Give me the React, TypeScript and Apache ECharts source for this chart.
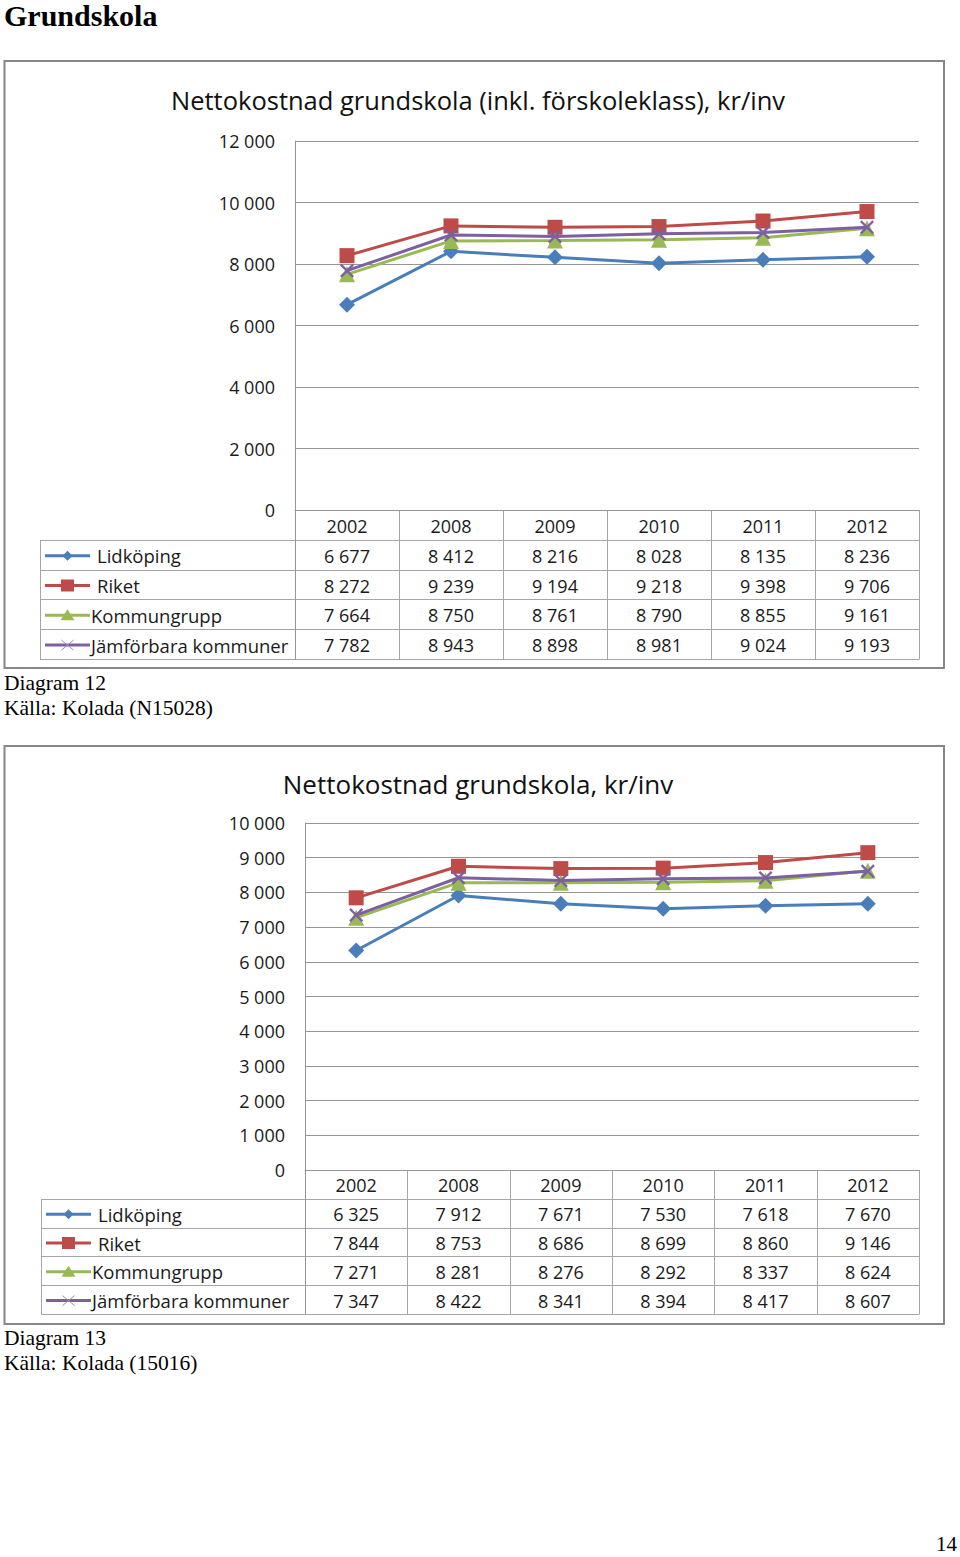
import React, { useEffect, useRef } from "react";
import * as echarts from "echarts";

// ---------- data ----------
const years = ["2002", "2008", "2009", "2010", "2011", "2012"];
const seriesNames = ["Lidköping", "Riket", "Kommungrupp", "Jämförbara kommuner"];
const seriesColors = ["#4A7EBB", "#BE4B48", "#98B954", "#7D60A0"];

const d12Lidkoping = [6677, 8412, 8216, 8028, 8135, 8236];
const d12Riket = [8272, 9239, 9194, 9218, 9398, 9706];
const d12Kommungrupp = [7664, 8750, 8761, 8790, 8855, 9161];
const d12Jamforbara = [7782, 8943, 8898, 8981, 9024, 9193];

const d13Lidkoping = [6325, 7912, 7671, 7530, 7618, 7670];
const d13Riket = [7844, 8753, 8686, 8699, 8860, 9146];
const d13Kommungrupp = [7271, 8281, 8276, 8292, 8337, 8624];
const d13Jamforbara = [7347, 8422, 8341, 8394, 8417, 8607];

const d12Max = 12000;
const d12Interval = 2000;
const d13Max = 10000;
const d13Interval = 1000;

const pageHeading = "Grundskola";
const d12Title = "Nettokostnad grundskola (inkl. förskoleklass), kr/inv";
const d13Title = "Nettokostnad grundskola, kr/inv";
const d12Caption = ["Diagram 12", "Källa: Kolada (N15028)"];
const d13Caption = ["Diagram 13", "Källa: Kolada (15016)"];
const pageNumber = "14";

// ---------- layout ----------
const W = 960;
const H = 1557;
const SANS = "'Open Sans', 'Noto Sans', sans-serif";
const SERIF = "'Liberation Serif', 'DejaVu Serif', serif";
const GRID_COLOR = "#969696";
const TABLE_COLOR = "#a6a6a6";

const fmt = (n: number) => String(n).replace(/\B(?=(\d{3})+(?!\d))/g, " ");

const X_SYMBOL =
  "path://M0,1.2 L1.2,0 L5,3.8 L8.8,0 L10,1.2 L6.2,5 L10,8.8 L8.8,10 L5,6.2 L1.2,10 L0,8.8 L3.8,5 Z";

type Panel = {
  frameTop: number;
  frameBottom: number;
  titleY: number;
  title: string;
  titleSize: number;
  gridLeft: number;
  gridTop: number;
  gridBottom: number;
  gridRight: number;
  labelRight: number;
  legendLeft: number;
  tableBottom: number;
  max: number;
  interval: number;
  data: number[][];
  caption: string[];
  captionY: number;
};

const panels: Panel[] = [
  {
    frameTop: 61,
    frameBottom: 668,
    titleY: 100,
    title: d12Title,
    titleSize: 25.5,
    gridLeft: 295,
    gridTop: 141,
    gridBottom: 510,
    gridRight: 919,
    labelRight: 275,
    legendLeft: 40,
    tableBottom: 659,
    max: d12Max,
    interval: d12Interval,
    data: [d12Lidkoping, d12Riket, d12Kommungrupp, d12Jamforbara],
    caption: d12Caption,
    captionY: 683,
  },
  {
    frameTop: 746,
    frameBottom: 1324,
    titleY: 784,
    title: d13Title,
    titleSize: 26,
    gridLeft: 305,
    gridTop: 823,
    gridBottom: 1170,
    gridRight: 919,
    labelRight: 285,
    legendLeft: 41,
    tableBottom: 1314,
    max: d13Max,
    interval: d13Interval,
    data: [d13Lidkoping, d13Riket, d13Kommungrupp, d13Jamforbara],
    caption: d13Caption,
    captionY: 1338,
  },
];

const symbols = ["diamond", "rect", "triangle", X_SYMBOL];
const symbolSizes = [16, 15, 16, 14];

function legendKey(i: number, x0: number, cy: number): any[] {
  const c = seriesColors[i];
  const x1 = x0 + 45;
  const cx = (x0 + x1) / 2;
  const els: any[] = [
    {
      type: "line",
      shape: { x1: x0, y1: cy, x2: x1, y2: cy },
      style: { stroke: c, lineWidth: 3 },
    },
  ];
  if (i === 0) {
    els.push({
      type: "polygon",
      shape: { points: [[cx, cy - 5], [cx + 5, cy], [cx, cy + 5], [cx - 5, cy]] },
      style: { fill: c },
    });
  } else if (i === 1) {
    els.push({ type: "rect", shape: { x: cx - 6.5, y: cy - 6, width: 13, height: 12 }, style: { fill: c } });
  } else if (i === 2) {
    els.push({
      type: "polygon",
      shape: { points: [[cx, cy - 6], [cx + 7, cy + 5], [cx - 7, cy + 5]] },
      style: { fill: c },
    });
  } else {
    els.push({ type: "line", shape: { x1: cx - 6, y1: cy - 5, x2: cx + 6, y2: cy + 5 }, style: { stroke: "#9b8bb8", lineWidth: 1 } });
    els.push({ type: "line", shape: { x1: cx - 6, y1: cy + 5, x2: cx + 6, y2: cy - 5 }, style: { stroke: "#9b8bb8", lineWidth: 1 } });
  }
  return els;
}

function buildOption(): any {
  const grids: any[] = [];
  const xAxes: any[] = [];
  const yAxes: any[] = [];
  const series: any[] = [];
  const graphic: any[] = [];

  graphic.push({
    type: "text",
    x: 4,
    y: 15.5,
    style: { text: pageHeading, font: `bold 30px ${SERIF}`, fill: "#000", textVerticalAlign: "middle" },
  });
  graphic.push({
    type: "text",
    x: 957,
    y: 1544,
    style: { text: pageNumber, font: `21px ${SERIF}`, fill: "#000", textAlign: "right", textVerticalAlign: "middle" },
  });

  panels.forEach((p, pi) => {
    graphic.push({
      type: "rect",
      shape: { x: 4.5, y: p.frameTop, width: 939.5, height: p.frameBottom - p.frameTop },
      style: { fill: "#fff", stroke: "#868686", lineWidth: 2 },
      z: -10,
    });
    graphic.push({
      type: "text",
      x: 478,
      y: p.titleY,
      style: { text: p.title, font: `${p.titleSize}px ${SANS}`, fill: "#111", textAlign: "center", textVerticalAlign: "middle" },
    });
    p.caption.forEach((t, k) => {
      graphic.push({
        type: "text",
        x: 4,
        y: p.captionY + k * 25,
        style: { text: t, font: `21.5px ${SERIF}`, fill: "#000", textVerticalAlign: "middle" },
      });
    });

    grids.push({
      left: p.gridLeft,
      top: p.gridTop,
      width: p.gridRight - p.gridLeft,
      height: p.gridBottom - p.gridTop,
      containLabel: false,
    });
    xAxes.push({
      type: "category",
      gridIndex: pi,
      data: years,
      boundaryGap: true,
      axisLine: { show: true, lineStyle: { color: GRID_COLOR, width: 1 } },
      axisTick: { show: false },
      axisLabel: { show: false },
      splitLine: { show: false },
    });
    yAxes.push({
      type: "value",
      gridIndex: pi,
      min: 0,
      max: p.max,
      interval: p.interval,
      axisLine: { show: true, lineStyle: { color: GRID_COLOR, width: 1 } },
      axisTick: { show: false },
      axisLabel: {
        margin: p.gridLeft - p.labelRight,
        formatter: (v: number) => fmt(v),
        fontFamily: SANS,
        fontSize: 18,
        color: "#1a1a1a",
      },
      splitLine: { show: true, lineStyle: { color: GRID_COLOR, width: 1 } },
    });

    p.data.forEach((vals, si) => {
      series.push({
        type: "line",
        name: seriesNames[si],
        xAxisIndex: pi,
        yAxisIndex: pi,
        data: vals,
        symbol: symbols[si],
        symbolSize: symbolSizes[si],
        showSymbol: true,
        lineStyle: { color: seriesColors[si], width: 3 },
        itemStyle: { color: seriesColors[si] },
        z: 3 + si,
        emphasis: { disabled: true },
      });
    });

    const rowH = (p.tableBottom - p.gridBottom) / 5;
    const colW = (p.gridRight - p.gridLeft) / years.length;
    for (let r = 1; r <= 5; r++) {
      const y = Math.round(p.gridBottom + r * rowH) + 0.5;
      graphic.push({
        type: "line",
        shape: { x1: p.legendLeft, y1: y, x2: p.gridRight, y2: y },
        style: { stroke: TABLE_COLOR, lineWidth: 1 },
      });
    }
    const yTopRow = Math.round(p.gridBottom + rowH);
    graphic.push({
      type: "line",
      shape: { x1: p.legendLeft + 0.5, y1: yTopRow, x2: p.legendLeft + 0.5, y2: p.tableBottom + 0.5 },
      style: { stroke: TABLE_COLOR, lineWidth: 1 },
    });
    for (let c = 0; c <= years.length; c++) {
      const x = Math.round(p.gridLeft + c * colW) + 0.5;
      graphic.push({
        type: "line",
        shape: { x1: x, y1: p.gridBottom, x2: x, y2: p.tableBottom + 0.5 },
        style: { stroke: c === 0 ? GRID_COLOR : TABLE_COLOR, lineWidth: 1 },
      });
    }
    years.forEach((yr, c) => {
      graphic.push({
        type: "text",
        x: p.gridLeft + (c + 0.5) * colW,
        y: p.gridBottom + rowH / 2 + 1,
        style: { text: yr, font: `18px ${SANS}`, fill: "#1a1a1a", textAlign: "center", textVerticalAlign: "middle" },
      });
    });
    p.data.forEach((vals, si) => {
      const cy = p.gridBottom + (si + 1.5) * rowH + 1;
      graphic.push(...legendKey(si, p.legendLeft + 5, cy));
      graphic.push({
        type: "text",
        x: p.legendLeft + 51 + (si < 2 ? 6 : 0),
        y: cy,
        style: { text: seriesNames[si], font: `18.5px ${SANS}`, fill: "#1a1a1a", textVerticalAlign: "middle" },
      });
      vals.forEach((v, c) => {
        graphic.push({
          type: "text",
          x: p.gridLeft + (c + 0.5) * colW,
          y: cy,
          style: { text: fmt(v), font: `18px ${SANS}`, fill: "#1a1a1a", textAlign: "center", textVerticalAlign: "middle" },
        });
      });
    });
  });

  return {
    animation: false,
    backgroundColor: "#fff",
    grid: grids,
    xAxis: xAxes,
    yAxis: yAxes,
    series,
    graphic,
  };
}

export default function App() {
  const ref = useRef<HTMLDivElement>(null);
  useEffect(() => {
    if (!ref.current) return;
    const chart = echarts.init(ref.current, undefined, { renderer: "svg" });
    chart.setOption(buildOption());
    return () => chart.dispose();
  }, []);
  return (
    <div
      ref={ref}
      style={{ position: "absolute", left: 0, top: 0, width: W, height: H, background: "#fff" }}
    />
  );
}
